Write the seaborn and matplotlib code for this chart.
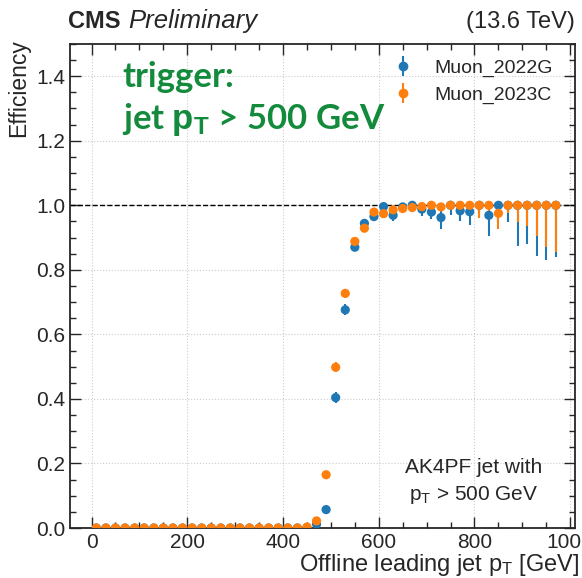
import numpy as np
import pandas as pd
import matplotlib
matplotlib.use("Agg")
import matplotlib.pyplot as plt
from matplotlib.lines import Line2D
from matplotlib.ticker import MultipleLocator
import seaborn as sns

# bin centres of the offline leading jet pT [GeV]
pt = list(range(10, 990, 20))

# efficiency per bin
eff_2022G = [0.0] * 23 + [
    0.012, 0.057, 0.404, 0.676, 0.870, 0.944, 0.965, 0.996, 0.969, 0.995,
    1.0, 0.988, 0.979, 0.962, 1.0, 0.983, 0.980, 1.0, 0.969, 1.0,
    1.0, 1.0, 1.0, 1.0, 1.0, 1.0]
eff_2023C = [0.0] * 22 + [0.003] + [
    0.022, 0.165, 0.498, 0.727, 0.888, 0.929, 0.979, 0.974, 0.986, 0.990,
    0.993, 0.996, 1.0, 0.995, 1.0, 1.0, 1.0, 1.0, 1.0, 0.975,
    1.0, 1.0, 1.0, 1.0, 1.0, 1.0]

# asymmetric errors (down / up)
err_dn_2022G = [0.0] * 23 + [
    0.005, 0.010, 0.018, 0.017, 0.012, 0.010, 0.010, 0.008, 0.017, 0.010,
    0.012, 0.022, 0.022, 0.036, 0.030, 0.033, 0.040, 0.038, 0.063, 0.050,
    0.053, 0.125, 0.120, 0.156, 0.171, 0.160]
err_up_2022G = [0.0] * 23 + [
    0.005, 0.010, 0.018, 0.017, 0.012, 0.010, 0.010, 0.004, 0.015, 0.005,
    0.0, 0.010, 0.012, 0.020, 0.0, 0.012, 0.015, 0.0, 0.025, 0.0,
    0.0, 0.0, 0.0, 0.0, 0.0, 0.0]
err_dn_2023C = [0.0] * 23 + [
    0.004, 0.010, 0.015, 0.014, 0.010, 0.010, 0.008, 0.008, 0.007, 0.007,
    0.007, 0.008, 0.008, 0.010, 0.012, 0.013, 0.015, 0.038, 0.030, 0.049,
    0.023, 0.053, 0.064, 0.095, 0.130, 0.146]
err_up_2023C = [0.0] * 23 + [
    0.004, 0.010, 0.015, 0.014, 0.010, 0.010, 0.008, 0.008, 0.006, 0.005,
    0.004, 0.003, 0.0, 0.004, 0.0, 0.0, 0.0, 0.0, 0.0, 0.015,
    0.0, 0.0, 0.0, 0.0, 0.0, 0.0]

datasets = ["Muon_2022G", "Muon_2023C"]
colors = ["#1f77b4", "#ff7f0e"]

df = pd.concat([
    pd.DataFrame({"pt": pt, "eff": eff_2022G, "lo": err_dn_2022G,
                  "hi": err_up_2022G, "dataset": datasets[0]}),
    pd.DataFrame({"pt": pt, "eff": eff_2023C, "lo": err_dn_2023C,
                  "hi": err_up_2023C, "dataset": datasets[1]}),
])

sns.set_theme(style="ticks")
plt.rcParams["font.family"] = ["Liberation Sans", "DejaVu Sans"]
plt.rcParams["mathtext.fontset"] = "custom"
plt.rcParams["mathtext.rm"] = "Liberation Sans"
plt.rcParams["mathtext.it"] = "Liberation Sans:italic"
plt.rcParams["mathtext.bf"] = "Liberation Sans:bold"

fig = plt.figure(figsize=(5.82, 5.78), dpi=100)
ax = fig.add_axes([0.1203, 0.0865, 0.8677, 0.8375])

for name, col in zip(datasets, colors):
    d = df[df["dataset"] == name]
    ax.errorbar(d["pt"], d["eff"], yerr=[d["lo"], d["hi"]], fmt="none",
                ecolor=col, elinewidth=1.5, zorder=2)
    sns.scatterplot(data=d, x="pt", y="eff", color=col, s=44,
                    edgecolor="none", legend=False, ax=ax, zorder=3)

ax.axhline(1.0, color="black", ls="--", lw=1, zorder=1)

ax.set_xlim(-45, 1010)
ax.set_ylim(0, 1.5)
ax.xaxis.set_major_locator(MultipleLocator(200))
ax.xaxis.set_minor_locator(MultipleLocator(50))
ax.yaxis.set_major_locator(MultipleLocator(0.2))
ax.yaxis.set_minor_locator(MultipleLocator(0.05))
ax.tick_params(which="both", direction="in", top=True, right=True,
               labelsize=15)
ax.tick_params(which="major", length=8, width=1)
ax.tick_params(which="minor", length=4, width=1)
ax.grid(True, which="major", color="#cccccc", ls=":", lw=0.8)
for s in ax.spines.values():
    s.set_linewidth(1.3)

ax.set_xlabel(r"Offline leading jet p$_\mathrm{T}$ [GeV]", fontsize=17,
              ha="right")
ax.xaxis.set_label_coords(1.008, -0.049)
ax.set_ylabel("Efficiency", fontsize=16.5, ha="right", y=1.01)

handles = [(Line2D([], [], color=c, marker="o", ls="", ms=6),
            Line2D([], [], color=c, marker="|", ls="", ms=14, mew=1.5))
           for c in colors]
ax.legend(handles, datasets, loc="upper right", frameon=False, fontsize=14,
          bbox_to_anchor=(0.99, 1.005), handletextpad=0.6)

ax.text(-0.004, 1.033, "CMS", transform=ax.transAxes, fontsize=17,
        fontweight="bold", va="baseline", ha="left")
ax.text(0.115, 1.033, "Preliminary", transform=ax.transAxes, fontsize=18.5,
        style="italic", va="baseline", ha="left")
ax.text(1.0, 1.033, "(13.6 TeV)", transform=ax.transAxes, fontsize=17,
        va="baseline", ha="right")

ax.text(0.8, 0.046, "AK4PF jet with\np$_\\mathrm{T}$ > 500 GeV",
        transform=ax.transAxes, fontsize=15, ha="center", va="bottom",
        multialignment="center", linespacing=1.45)

ax.text(0.103, 0.965, "trigger:\njet $\\mathbf{p_T}$ > 500 GeV",
        transform=ax.transAxes, fontsize=25, color="#138a3c",
        fontweight="bold", family=["Lato", "DejaVu Sans"],
        ha="left", va="top", linespacing=1.3)

fig.savefig("out.png", dpi=100)
